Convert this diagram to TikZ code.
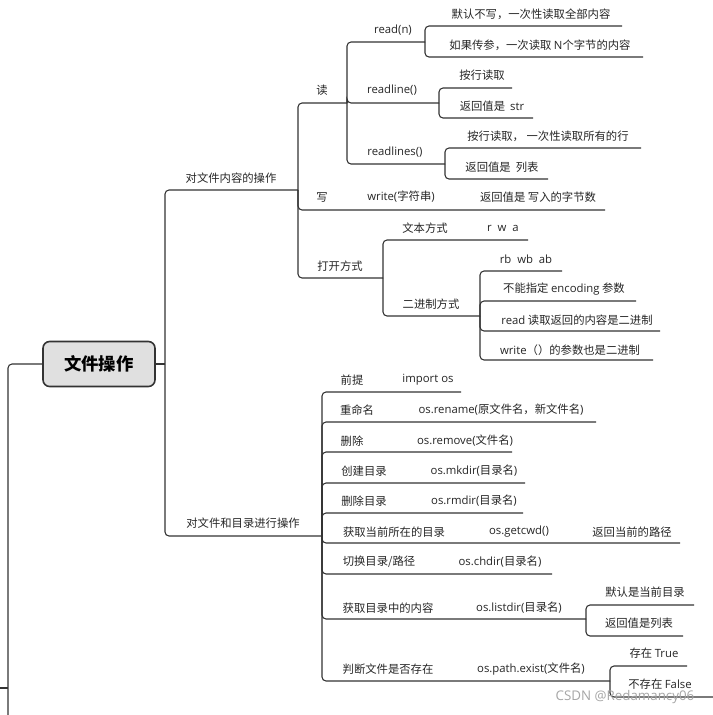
\documentclass[tikz,border=0pt]{standalone}
\usepackage{fontspec}
\setmainfont{Noto Sans CJK SC}
\newfontfamily\lat{Open Sans}
\begin{document}
\begin{tikzpicture}[x=0.75pt,y=-0.75pt,
  ln/.style={draw=black!80,line width=0.8pt,rounded corners=3pt},
  tx/.style={font=\fontsize{8.5}{10}\selectfont,text=black!85,inner sep=0pt}]
\newcommand\mmbr[4]{\draw[ln] (#1,#2) -- (#1,#3) -- (#4,#3);}
\path[use as bounding box,fill=white] (0,0) rectangle (713,715);
% root
\node[draw=black!80,fill=black!12,rounded corners=5pt,line width=1.2pt,minimum width=112*0.75pt,minimum height=45*0.75pt,font=\fontsize{13}{15}\selectfont\bfseries] (root) at (99,364) {文件操作};
\draw[ln] (root.west) -- (8,364) -- (8,715);
\draw[ln] (0,688) -- (8,688);
\draw[ln] (root.east) -- (165,364);
\mmbr{165}{364}{190}{298}
\mmbr{165}{364}{536}{322}
\node[tx] (a) at (231,178) {对文件内容的操作};
\node[tx] (b) at (243,523) {对文件和目录进行操作};
% 读 写 打开方式
\mmbr{298}{190}{103}{347}
\mmbr{298}{190}{210}{605}
\mmbr{298}{190}{278}{383}
\node[tx] (r) at (322,90) {读};
\node[tx] (w) at (322,197) {写};
\node[tx] (w1) at (401,197) {{\lat write(}字符串{\lat )}};
\node[tx] (w2) at (538,197) {返回值是 写入的字节数};
\node[tx] (o) at (340,266) {打开方式};
% read children
\mmbr{347}{103}{42}{425}
\mmbr{347}{103}{103}{439}
\mmbr{347}{103}{164}{445}
\node[tx] (rn) at (393,30) {\lat read(n)};
\node[tx] (rl) at (392,90) {\lat readline()};
\node[tx] (rls) at (395,152) {\lat readlines()};
\mmbr{425}{42}{26}{622}
\mmbr{425}{42}{57}{643}
\node[tx] (rn1) at (531,14) {默认不写，一次性读取全部内容};
\node[tx] (rn2) at (540,45) {如果传参，一次读取 {\lat N}个字节的内容};
\mmbr{439}{103}{88}{512}
\mmbr{439}{103}{118}{533}
\node[tx] (rl1) at (482,75) {按行读取};
\node[tx] (rl2) at (492,106) {返回值是\ \ {\lat str}};
\mmbr{445}{164}{148}{641}
\mmbr{445}{164}{179}{548}
\node[tx] (rs1) at (548,136) {按行读取， 一次性读取所有的行};
\node[tx] (rs2) at (502,167) {返回值是\ \ 列表};
% open modes
\mmbr{383}{278}{240}{528}
\mmbr{383}{278}{316}{480}
\node[tx] (t) at (425,228) {文本方式};
\node[tx] (t1) at (503,228) {\lat r\ \ w\ \ a};
\node[tx] (bi) at (431,304) {二进制方式};
\mmbr{480}{316}{271}{562}
\mmbr{480}{316}{301}{636}
\mmbr{480}{316}{331}{660}
\mmbr{480}{316}{360}{653}
\node[tx] (b1) at (526,259) {\lat rb\ \ wb\ \ ab};
\node[tx] (b2) at (564,289) {不能指定 {\lat encoding} 参数};
\node[tx] (b3) at (577,320) {{\lat read} 读取返回的内容是二进制};
\node[tx] (b4) at (570,350) {{\lat write}（）的参数也是二进制};
% os branch
\mmbr{322}{536}{392}{461}
\mmbr{322}{536}{422}{596}
\mmbr{322}{536}{452}{512}
\mmbr{322}{536}{483}{525}
\mmbr{322}{536}{513}{523}
\mmbr{322}{536}{543}{680}
\mmbr{322}{536}{574}{552}
\mmbr{322}{536}{619}{586}
\mmbr{322}{536}{681}{610}
\node[tx] (c1) at (352,380) {前提};
\node[tx] (c1b) at (428,380) {\lat import os};
\node[tx] (c2) at (357,410) {重命名};
\node[tx] (c2b) at (501,410) {{\lat os.rename(}原文件名，新文件名{\lat )}};
\node[tx] (c3) at (352,441) {删除};
\node[tx] (c3b) at (465,441) {{\lat os.remove(}文件名{\lat )}};
\node[tx] (c4) at (364,471) {创建目录};
\node[tx] (c4b) at (474,471) {{\lat os.mkdir(}目录名{\lat )}};
\node[tx] (c5) at (364,501) {删除目录};
\node[tx] (c5b) at (474,501) {{\lat os.rmdir(}目录名{\lat )}};
\node[tx] (c6) at (394,532) {获取当前所在的目录};
\node[tx] (c6b) at (519,532) {\lat os.getcwd()};
\node[tx] (c6c) at (632,532) {返回当前的路径};
\node[tx] (c7) at (379,562) {切换目录/路径};
\node[tx] (c7b) at (500,562) {{\lat os.chdir(}目录名{\lat )}};
\node[tx] (c8) at (388,608) {获取目录中的内容};
\node[tx] (c8b) at (519,608) {{\lat os.listdir(}目录名{\lat )}};
\node[tx] (c9) at (388,669) {判断文件是否存在};
\node[tx] (c9b) at (531,669) {{\lat os.path.exist(}文件名{\lat )}};
\mmbr{586}{619}{605}{694}
\mmbr{586}{619}{636}{683}
\node[tx] (d1) at (645,592) {默认是当前目录};
\node[tx] (d2) at (639,623) {返回值是列表};
\mmbr{610}{681}{666}{687}
\mmbr{610}{681}{697}{713}
\node[tx] (e1) at (654,653) {存在 {\lat True}};
\node[tx] (e2) at (660,684) {不存在 {\lat False}};
\node[font=\fontsize{10}{12}\selectfont\lat,text=black!35,inner sep=0pt] (wm) at (625,697) {CSDN @Redamancy06};
\end{tikzpicture}
\end{document}
